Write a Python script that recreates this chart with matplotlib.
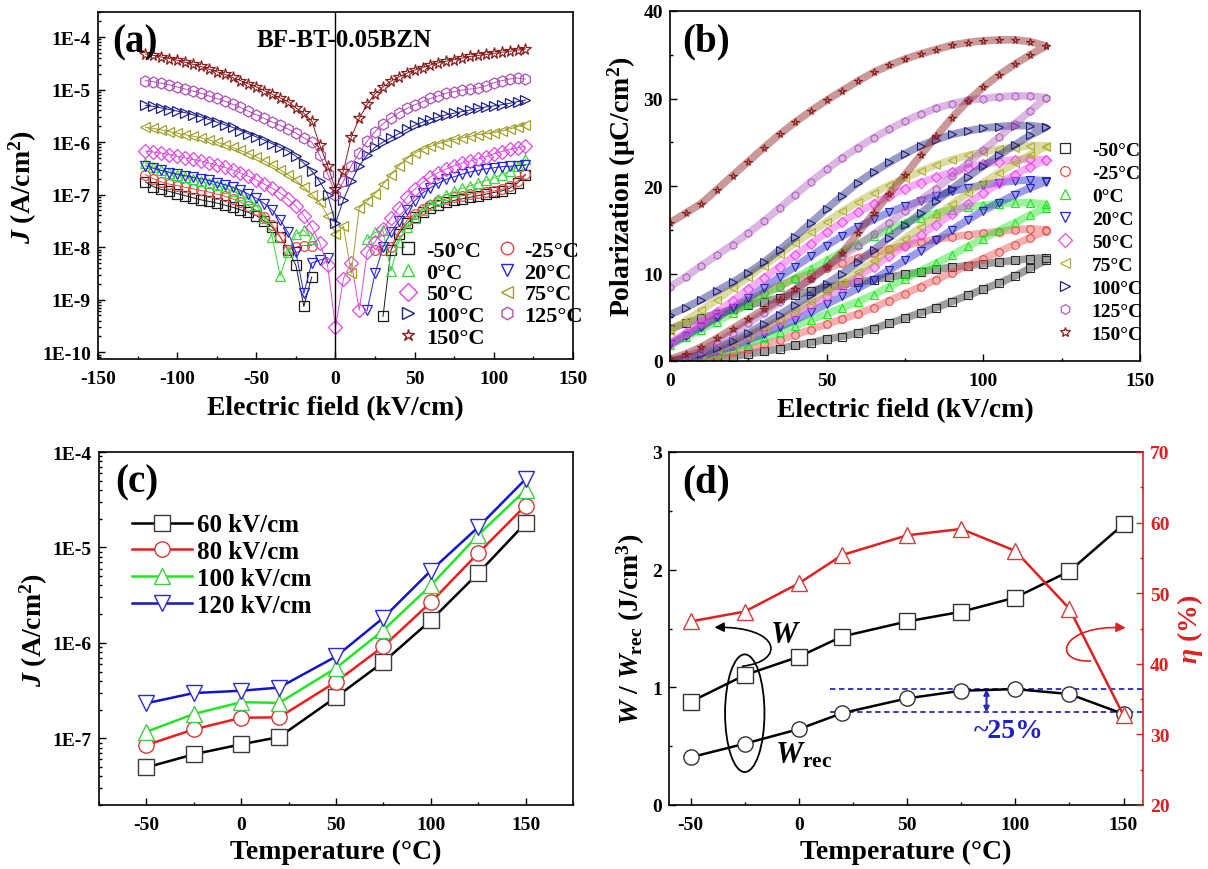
import numpy as np
import matplotlib
matplotlib.use('Agg')
import matplotlib.pyplot as plt
from matplotlib.ticker import MultipleLocator, LogLocator, FuncFormatter, NullFormatter
from matplotlib.patches import Ellipse, FancyArrowPatch
from matplotlib.path import Path
from matplotlib.lines import Line2D

nan = np.nan

# ------------------------- data -------------------------
temp_labels = ['-50°C', '-25°C', '0°C', '20°C', '50°C', '75°C', '100°C', '125°C', '150°C']

# (a) J-E curves, log10(J [A/cm2]) read at these fields (kV/cm)
field_a = [-120, -115, -110, -105, -100, -95, -90, -85, -80, -75, -70, -65, -60, -55, -50,
           -45, -40, -35, -30, -25, -20, -15, -10, -5, 0, 5, 10, 15, 20, 25, 30, 35, 40,
           45, 50, 55, 60, 65, 70, 75, 80, 85, 90, 95, 100, 105, 110, 115, 120]

logJ_m50 = [-6.76, -6.85, -6.90, -6.94, -6.98, -7.02, -7.06, -7.10, -7.13, -7.16, -7.20, -7.24,
            -7.29, -7.34, -7.40, -7.50, -7.62, -7.80, -8.05, -8.35, -9.13, -8.57, nan, nan,
            nan,
            nan, nan, nan, nan, nan, -9.32, -8.06, -7.75, -7.55, -7.42, -7.33, -7.26, -7.20,
            -7.15, -7.11, -7.08, -7.05, -7.02, -6.99, -6.96, -6.93, -6.88, -6.78, -6.62]
logJ_m25 = [-6.62, -6.70, -6.76, -6.80, -6.83, -6.86, -6.89, -6.92, -6.95, -6.99, -7.03, -7.08,
            -7.14, -7.21, -7.30, -7.42, -7.58, -7.80, -8.05, -8.00, -7.97, -7.97, nan, nan,
            nan,
            nan, nan, nan, nan, -8.05, -8.06, -8.00, -7.70, -7.50, -7.37, -7.27, -7.19, -7.13,
            -7.08, -7.05, -7.02, -6.99, -6.97, -6.95, -6.93, -6.90, -6.84, -6.74, -6.61]
logJ_0 = [-6.40, -6.48, -6.54, -6.58, -6.62, -6.66, -6.70, -6.74, -6.78, -6.82, -6.87, -6.93,
          -7.00, -7.08, -7.20, -7.45, -7.80, -8.55, -8.10, -7.75, -7.68, -7.85, nan, nan,
          nan,
          nan, nan, nan, -7.85, -7.72, -7.68, -8.45, -7.90, -7.62, -7.45, -7.30, -7.18, -7.08,
          -7.00, -6.94, -6.88, -6.83, -6.78, -6.73, -6.68, -6.62, -6.55, -6.45, -6.33]
logJ_20 = [-6.45, -6.50, -6.54, -6.58, -6.61, -6.64, -6.67, -6.70, -6.73, -6.77, -6.81, -6.86,
           -6.92, -6.99, -7.07, -7.17, -7.30, -7.48, -7.72, -8.10, -8.88, -8.30, -8.25, -8.20,
           nan,
           nan, nan, nan, -9.20, -8.50, -8.00, -7.72, -7.50, -7.30, -7.12, -6.97, -6.87, -6.78,
           -6.71, -6.66, -6.61, -6.57, -6.54, -6.51, -6.49, -6.47, -6.46, -6.45, -6.44]
logJ_50 = [-6.17, -6.19, -6.21, -6.24, -6.27, -6.30, -6.33, -6.36, -6.40, -6.44, -6.48, -6.53,
           -6.59, -6.65, -6.72, -6.80, -6.88, -6.97, -7.08, -7.22, -7.40, -7.62, -7.92, -8.35,
           -9.53,
           -8.60, -8.30, -9.20, -8.10, -7.90, -7.65, -7.45, -7.25, -7.05, -6.90, -6.77, -6.66,
           -6.58, -6.51, -6.45, -6.40, -6.36, -6.32, -6.28, -6.22, -6.18, -6.14, -6.11, -6.08]
logJ_75 = [-5.72, -5.74, -5.77, -5.80, -5.83, -5.86, -5.89, -5.92, -5.96, -6.00, -6.05, -6.10,
           -6.16, -6.22, -6.28, -6.36, -6.44, -6.53, -6.62, -6.73, -6.86, -7.00, -7.15, -7.40,
           -7.75,
           -7.60, -8.50, -7.25, -7.12, -6.98, -6.80, -6.62, -6.45, -6.32, -6.21, -6.14, -6.08,
           -6.03, -5.99, -5.95, -5.92, -5.89, -5.86, -5.84, -5.82, -5.79, -5.75, -5.71, -5.67]
logJ_100 = [-5.30, -5.32, -5.35, -5.38, -5.41, -5.44, -5.48, -5.52, -5.57, -5.62, -5.67, -5.72,
            -5.78, -5.84, -5.90, -5.96, -6.03, -6.10, -6.17, -6.27, -6.40, -6.55, -6.75, -7.00,
            -7.55,
            -7.10, -6.75, -6.45, -6.25, -6.10, -6.00, -5.92, -5.84, -5.76, -5.68, -5.62, -5.57,
            -5.52, -5.48, -5.45, -5.42, -5.39, -5.36, -5.33, -5.31, -5.29, -5.26, -5.23, -5.20]
logJ_125 = [-4.83, -4.85, -4.88, -4.91, -4.95, -4.99, -5.03, -5.07, -5.12, -5.17, -5.22, -5.28,
            -5.34, -5.41, -5.48, -5.55, -5.62, -5.68, -5.75, -5.83, -5.92, -6.00, -6.25, -6.60,
            -7.00,
            -6.75, -6.45, -6.20, -5.98, -5.80, -5.65, -5.54, -5.44, -5.36, -5.29, -5.23, -5.17,
            -5.12, -5.07, -5.04, -5.01, -4.99, -4.97, -4.93, -4.87, -4.83, -4.80, -4.78, -4.80]
logJ_150 = [-4.32, -4.35, -4.38, -4.41, -4.44, -4.48, -4.52, -4.56, -4.61, -4.66, -4.71, -4.77,
            -4.83, -4.89, -4.95, -5.02, -5.09, -5.16, -5.23, -5.35, -5.45, -5.60, -6.05, -6.45,
            -6.90,
            -6.55, -5.90, -5.55, -5.28, -5.08, -4.95, -4.84, -4.76, -4.69, -4.63, -4.58, -4.53,
            -4.49, -4.46, -4.43, -4.40, -4.37, -4.35, -4.33, -4.31, -4.29, -4.27, -4.25, -4.23]

# (b) unipolar P-E loops: lower (rising field) and upper (falling field) branches
field_b = [0, 5, 10, 15, 20, 25, 30, 35, 40, 45, 50, 55, 60, 65, 70, 75, 80, 85, 90, 95, 100,
           105, 110, 115, 120]
P_lo_m50 = [0.0, 0.0, 0.1, 0.3, 0.5, 0.8, 1.1, 1.4, 1.8, 2.1, 2.5, 2.8, 3.2, 3.7, 4.3, 4.9, 5.5,
            6.1, 6.8, 7.5, 8.2, 8.9, 9.7, 10.6, 11.5]
P_up_m50 = [3.7, 4.3, 4.9, 5.4, 5.9, 6.4, 6.8, 7.2, 7.6, 8.0, 8.4, 8.7, 9.0, 9.3, 9.6, 9.9, 10.2,
            10.5, 10.7, 10.9, 11.1, 11.3, 11.5, 11.7, 11.8]
P_lo_m25 = [0.0, 0.1, 0.3, 0.6, 1.0, 1.4, 1.9, 2.4, 3.0, 3.6, 4.2, 4.8, 5.4, 6.1, 6.9, 7.7, 8.5,
            9.3, 10.1, 10.9, 11.7, 12.5, 13.3, 14.1, 14.9]
P_up_m25 = [2.0, 3.0, 4.0, 5.0, 6.0, 6.9, 7.8, 8.6, 9.4, 10.0, 10.6, 11.2, 11.8, 12.3, 12.8, 13.2,
            13.6, 13.9, 14.2, 14.4, 14.6, 14.8, 15.0, 15.1, 15.0]
P_lo_0 = [0.0, 0.2, 0.5, 0.9, 1.4, 2.0, 2.6, 3.3, 4.0, 4.7, 5.4, 6.1, 6.8, 7.6, 8.5, 9.4, 10.3,
          11.2, 12.1, 13.1, 14.0, 14.9, 15.8, 16.7, 17.5]
P_up_0 = [1.8, 2.7, 3.6, 4.5, 5.5, 6.5, 7.5, 8.5, 9.5, 10.5, 11.5, 12.5, 13.4, 14.3, 15.1, 15.8,
          16.4, 16.9, 17.3, 17.6, 17.8, 18.0, 18.1, 18.1, 17.9]
P_lo_20 = [0.0, 0.2, 0.6, 1.1, 1.7, 2.4, 3.1, 3.9, 4.7, 5.6, 6.5, 7.4, 8.3, 9.3, 10.4, 11.5, 12.6,
           13.8, 15.0, 16.1, 17.2, 18.1, 19.0, 19.8, 20.5]
P_up_20 = [1.9, 2.9, 3.9, 5.0, 6.1, 7.2, 8.4, 9.6, 10.8, 12.0, 13.2, 14.3, 15.3, 16.2, 17.0, 17.7,
           18.3, 18.9, 19.4, 19.8, 20.1, 20.4, 20.6, 20.7, 20.6]
P_lo_50 = [0.0, 0.3, 0.7, 1.3, 2.0, 2.8, 3.6, 4.5, 5.4, 6.4, 7.4, 8.5, 9.6, 10.8, 12.0, 13.2, 14.4,
           15.6, 16.8, 18.0, 19.2, 20.3, 21.3, 22.2, 23.0]
P_up_50 = [2.0, 3.2, 4.4, 5.6, 6.9, 8.2, 9.5, 10.8, 12.1, 13.4, 14.7, 15.9, 17.0, 18.0, 18.9, 19.7,
           20.4, 21.0, 21.6, 22.1, 22.5, 22.8, 23.0, 23.1, 23.0]
P_lo_75 = [0.0, 0.3, 0.8, 1.4, 2.1, 2.9, 3.8, 4.7, 5.7, 6.8, 7.9, 9.0, 10.2, 11.4, 12.7, 14.0, 15.3,
           16.6, 17.9, 19.2, 20.4, 21.5, 22.6, 23.6, 24.5]
P_up_75 = [3.4, 4.6, 5.8, 7.0, 8.3, 9.6, 10.9, 12.2, 13.5, 14.7, 15.9, 17.1, 18.2, 19.2, 20.1, 20.9,
           21.7, 22.4, 23.0, 23.5, 23.9, 24.2, 24.4, 24.6, 24.6]
P_lo_100 = [0.0, 0.3, 0.8, 1.5, 2.3, 3.2, 4.2, 5.3, 6.4, 7.6, 8.8, 10.0, 11.3, 12.7, 14.1, 15.5,
            16.9, 18.3, 19.7, 21.0, 22.3, 23.5, 24.7, 25.8, 26.7]
P_up_100 = [5.3, 6.1, 7.0, 8.0, 9.0, 10.1, 11.3, 12.7, 14.2, 15.8, 17.4, 18.9, 20.4, 21.6, 22.7,
            23.7, 24.6, 25.3, 25.9, 26.3, 26.6, 26.8, 26.9, 26.9, 26.7]
P_lo_125 = [0.0, 0.5, 1.2, 2.1, 3.2, 4.3, 5.5, 6.8, 8.1, 9.4, 10.7, 12.0, 13.2, 14.5, 15.8, 17.1,
            18.4, 19.7, 21.1, 22.6, 24.1, 25.6, 27.1, 28.6, 30.1]
P_up_125 = [8.5, 9.6, 10.9, 12.1, 13.3, 14.6, 16.0, 17.5, 19.0, 20.5, 21.9, 23.2, 24.4, 25.5, 26.5,
            27.4, 28.2, 28.9, 29.4, 29.8, 30.0, 30.2, 30.3, 30.3, 30.1]
P_lo_150 = [0.2, 0.8, 1.6, 2.6, 3.7, 4.8, 5.9, 7.0, 8.2, 9.4, 10.7, 12.4, 14.6, 16.9, 19.1, 21.3,
            23.5, 25.7, 27.8, 29.7, 31.3, 32.7, 33.9, 35.0, 36.0]
P_up_150 = [15.8, 16.9, 18.0, 19.6, 21.2, 22.8, 24.4, 25.9, 27.3, 28.6, 29.8, 30.9, 32.0, 33.0,
            33.8, 34.5, 35.1, 35.6, 36.1, 36.4, 36.6, 36.7, 36.7, 36.5, 36.0]

# (c) leakage current density vs temperature
temps = [-50, -25, 0, 20, 50, 75, 100, 125, 150]
field_labels_c = ['60 kV/cm', '80 kV/cm', '100 kV/cm', '120 kV/cm']
J_60 = [4.95e-8, 6.8e-8, 8.65e-8, 1.03e-7, 2.7e-7, 6.3e-7, 1.72e-6, 5.37e-6, 1.8e-5]
J_80 = [8.5e-8, 1.24e-7, 1.64e-7, 1.66e-7, 3.9e-7, 9.2e-7, 2.66e-6, 8.7e-6, 2.75e-5]
J_100 = [1.17e-7, 1.8e-7, 2.39e-7, 2.35e-7, 5.45e-7, 1.36e-6, 4.0e-6, 1.35e-5, 4.0e-5]
J_120 = [2.33e-7, 2.98e-7, 3.15e-7, 3.4e-7, 7.2e-7, 1.83e-6, 5.7e-6, 1.63e-5, 5.2e-5]

# (d) energy storage
W_tot = [0.877, 1.104, 1.26, 1.432, 1.56, 1.642, 1.763, 1.987, 2.386]
W_rec = [0.405, 0.521, 0.645, 0.781, 0.906, 0.971, 0.985, 0.943, 0.773]
eta = [46.0, 47.4, 51.4, 55.4, 58.2, 59.1, 56.0, 47.8, 32.7]
ref_levels = [0.985, 0.787]

# ------------------------- style -------------------------
plt.rcParams['font.family'] = ['Liberation Serif', 'DejaVu Serif']
plt.rcParams['font.weight'] = 'bold'
plt.rcParams['axes.labelweight'] = 'bold'
plt.rcParams['axes.unicode_minus'] = False
plt.rcParams['mathtext.fontset'] = 'custom'
plt.rcParams['mathtext.rm'] = 'Liberation Serif:bold'
plt.rcParams['mathtext.it'] = 'Liberation Serif:italic:bold'
plt.rcParams['mathtext.bf'] = 'Liberation Serif:bold'

TICK = 14
LAB = 20

def style(ax, right=False):
    ax.tick_params(which='both', direction='in', top=False, right=right, labelsize=TICK, width=1.0)
    ax.tick_params(which='major', length=5)
    ax.tick_params(which='minor', length=2.5)
    ax.tick_params(axis='x', which='both', pad=8)
    ax.tick_params(axis='y', which='both', pad=5)
    for sp in ax.spines.values():
        sp.set_linewidth(1.2)

def dec_fmt(v, pos):
    return '1E%d' % int(round(np.log10(v)))

fig = plt.figure(figsize=(12.08, 8.70), dpi=100)
W_, H_ = 1208.0, 870.0

def axes_px(l, r, t, b):
    return fig.add_axes([l / W_, 1 - b / H_, (r - l) / W_, (b - t) / H_])

# ------------------------- (a) -------------------------
axa = axes_px(98, 573, 13, 360)
cols_a = ['#1a1a1a', '#e04848', '#3cd83c', '#2626d6', '#e048e0', '#a0a02a', '#1e1e88', '#b050b8', '#8b1c1c']
mk_a = ['s', 'o', '^', 'v', 'D', '<', '>', 'h', '*']
ms_a = [7, 7, 7.5, 7.5, 7, 7.5, 7.5, 8, 8.5]
series_a = [logJ_m50, logJ_m25, logJ_0, logJ_20, logJ_50, logJ_75, logJ_100, logJ_125, logJ_150]
for lj, c, m, ms in zip(series_a, cols_a, mk_a, ms_a):
    J = 10 ** np.array(lj, dtype=float)
    axa.plot(field_a, J, ls='-', lw=0.7, color=c, marker=m, ms=ms, mfc='none', mec=c, mew=0.9)
axa.axvline(0, color='k', lw=1.0)
axa.set_yscale('log')
axa.set_xlim(-150, 150)
axa.set_ylim(7.4e-11, 3e-4)
axa.xaxis.set_major_locator(MultipleLocator(50))
axa.xaxis.set_minor_locator(MultipleLocator(25))
axa.yaxis.set_major_locator(LogLocator(base=10, numticks=20))
axa.yaxis.set_minor_locator(LogLocator(base=10, subs=np.arange(2, 10), numticks=20))
axa.yaxis.set_major_formatter(FuncFormatter(dec_fmt))
axa.yaxis.set_minor_formatter(NullFormatter())
style(axa)
axa.set_xlabel('Electric field (kV/cm)', fontsize=LAB, labelpad=6)
axa.set_ylabel(r'$J$ (A/cm$^2$)', fontsize=LAB, labelpad=2)
axa.text(0.078, 0.915, '(a)', transform=axa.transAxes, fontsize=28, ha='center', va='center')
axa.text(0.518, 0.922, 'BF-BT-0.05BZN', transform=axa.transAxes, fontsize=18, ha='center', va='center')
h_a = [Line2D([], [], ls='none', marker=m, ms=9, mfc='none', mec=c, mew=1.0) for m, c in zip(mk_a, cols_a)]
order = [0, 2, 4, 6, 8, 1, 3, 5, 7]
leg = axa.legend([h_a[i] for i in order], [temp_labels[i] for i in order], ncol=2, loc='center',
                 bbox_to_anchor=(491 / W_, 1 - 295 / H_), bbox_transform=fig.transFigure,
                 frameon=False, fontsize=16, handlelength=0.8, handletextpad=0.4,
                 columnspacing=0.6, labelspacing=0.05, borderpad=0.1)

# ------------------------- (b) -------------------------
axb = axes_px(670, 1140, 12, 362)
cols_b = ['#2a2a2a', '#e85050', '#22e622', '#2323c8', '#ee48ee', '#b0b032', '#20207e', '#b060c0', '#8b2020']
mk_b = ['s', 'o', '^', 'v', 'D', '<', '>', 'h', '*']
lows = [P_lo_m50, P_lo_m25, P_lo_0, P_lo_20, P_lo_50, P_lo_75, P_lo_100, P_lo_125, P_lo_150]
ups = [P_up_m50, P_up_m25, P_up_0, P_up_20, P_up_50, P_up_75, P_up_100, P_up_125, P_up_150]
for lo, up, c, m in zip(lows, ups, cols_b, mk_b):
    E_loop = list(field_b) + list(field_b)[::-1]
    P_loop = list(lo) + list(up)[::-1]
    axb.plot(E_loop, P_loop, ls='-', lw=5.5, color=c, alpha=0.45, solid_capstyle='round')
    axb.plot(E_loop, P_loop, ls='none', marker=m, ms=5.5, mfc='none', mec=c, mew=0.8)
axb.set_xlim(0, 150)
axb.set_ylim(0, 40)
axb.xaxis.set_major_locator(MultipleLocator(50))
axb.xaxis.set_minor_locator(MultipleLocator(25))
axb.yaxis.set_major_locator(MultipleLocator(10))
axb.yaxis.set_minor_locator(MultipleLocator(5))
style(axb)
axb.set_xlabel('Electric field (kV/cm)', fontsize=LAB, labelpad=6)
axb.set_ylabel('Polarization (μC/cm$^2$)', fontsize=LAB)
axb.text(0.0766, 0.915, '(b)', transform=axb.transAxes, fontsize=28, ha='center', va='center')
h_b = [Line2D([], [], ls='none', marker=m, ms=7, mfc='none', mec=c, mew=0.9) for m, c in zip(mk_b, cols_b)]
axb.legend(h_b, temp_labels, loc='center', bbox_to_anchor=(1100 / W_, 1 - 243 / H_),
           bbox_transform=fig.transFigure, frameon=False, fontsize=14, handlelength=0.8,
           handletextpad=1.0, labelspacing=0.28, borderpad=0.1)

# ------------------------- (c) -------------------------
axc = axes_px(99, 573, 453, 806)
series_c = [J_60, J_80, J_100, J_120]
lcol_c = ['#000000', '#ee1c1c', '#22e622', '#1414c8']
mcol_c = ['#3a3a3a', '#d03a3a', '#44cc44', '#2a2ad0']
mk_c = ['s', 'o', '^', 'v']
for J, lc, mc, m, lab in zip(series_c, lcol_c, mcol_c, mk_c, field_labels_c):
    axc.plot(temps, J, color=lc, lw=1.8, marker=m, ms=11, mfc='white', mec=mc, mew=1.0, label=lab)
axc.set_yscale('log')
axc.set_xlim(-75, 175)
axc.set_ylim(2e-8, 1e-4)
axc.xaxis.set_major_locator(MultipleLocator(50))
axc.xaxis.set_minor_locator(MultipleLocator(25))
axc.yaxis.set_major_locator(LogLocator(base=10, numticks=20))
axc.yaxis.set_minor_locator(LogLocator(base=10, subs=np.arange(2, 10), numticks=20))
axc.yaxis.set_major_formatter(FuncFormatter(dec_fmt))
axc.yaxis.set_minor_formatter(NullFormatter())
style(axc)
axc.set_xlabel('Temperature (°C)', fontsize=LAB, labelpad=4)
axc.set_ylabel(r'$J$ (A/cm$^2$)', fontsize=LAB, labelpad=2)
axc.text(0.0795, 0.914, '(c)', transform=axc.transAxes, fontsize=28, ha='center', va='center')
axc.legend(loc='center', bbox_to_anchor=(222 / W_, 1 - 566 / H_), bbox_transform=fig.transFigure,
           frameon=False, fontsize=18, handlelength=2.4, handletextpad=0.2, labelspacing=0.15,
           borderpad=0.1, numpoints=1)

# ------------------------- (d) -------------------------
axd = axes_px(669, 1143, 453, 806)
red = '#e02020'
axd.plot(temps, W_tot, color='k', lw=1.8, marker='s', ms=11, mfc='white', mec='#333333', mew=1.0, zorder=3)
axd.plot(temps, W_rec, color='k', lw=1.8, marker='o', ms=11, mfc='white', mec='#333333', mew=1.0, zorder=3)
axd.set_xlim(-60, 159)
axd.set_ylim(0, 3)
axd.xaxis.set_major_locator(MultipleLocator(50))
axd.xaxis.set_minor_locator(MultipleLocator(25))
axd.yaxis.set_major_locator(MultipleLocator(1))
axd.yaxis.set_minor_locator(MultipleLocator(0.5))
style(axd)
axd.spines['right'].set_visible(False)
axd.set_xlabel('Temperature (°C)', fontsize=LAB, labelpad=4)
axd.set_ylabel(r'$W$ / $W_{\rm rec}$ (J/cm$^3$)', fontsize=LAB)
axd.text(0.078, 0.914, '(d)', transform=axd.transAxes, fontsize=28, ha='center', va='center')

axd2 = axd.twinx()
axd2.plot(temps, eta, color=red, lw=1.8, marker='^', ms=12, mfc='white', mec='#d04040', mew=1.0)
axd2.set_ylim(20, 70)
axd2.yaxis.set_major_locator(MultipleLocator(10))
axd2.yaxis.set_minor_locator(MultipleLocator(5))
axd2.tick_params(which='both', direction='in', labelsize=TICK, colors=red, width=1.0, pad=5)
axd2.tick_params(which='major', length=5)
axd2.tick_params(which='minor', length=2.5)
for k, sp in axd2.spines.items():
    sp.set_linewidth(1.2)
axd2.spines['right'].set_color(red)
axd2.spines['left'].set_visible(False)
axd2.spines['top'].set_visible(False)
axd2.spines['bottom'].set_visible(False)
axd2.set_ylabel(r'$\eta$ (%)', fontsize=LAB, color=red)

# annotations on (d)
axd.add_patch(Ellipse((-25, 0.78), width=18.2, height=1.0, fill=False, ec='k', lw=1.3))
p1 = Path([(-26, 1.18), (-6, 1.22), (-8, 1.52), (-39, 1.51)],
          [Path.MOVETO, Path.CURVE4, Path.CURVE4, Path.CURVE4])
axd.add_patch(FancyArrowPatch(path=p1, arrowstyle='-|>', mutation_scale=14, color='k', lw=1.2,
                              transform=axd.transData))
p2 = Path([(134.8, 40.4), (116, 40.2), (121, 45.6), (151, 45.1)],
          [Path.MOVETO, Path.CURVE4, Path.CURVE4, Path.CURVE4])
axd2.add_patch(FancyArrowPatch(path=p2, arrowstyle='-|>', mutation_scale=14, color=red, lw=1.2,
                               transform=axd2.transData))
axd.text(-6, 1.45, r'$W$', fontsize=22, ha='center', va='center')
axd.text(-11, 0.43, r'$W_{\rm rec}$', fontsize=22, ha='left', va='center')
axd.hlines(ref_levels, 14.6, 159, colors='#2a2ab8', linestyles=(0, (3, 2)), lw=1.3)
axd.annotate('', xy=(86.7, ref_levels[1]), xytext=(86.7, ref_levels[0]),
             arrowprops=dict(arrowstyle='<|-|>', color='#2a2ab8', lw=1.5, mutation_scale=8,
                             shrinkA=0, shrinkB=0))
axd.text(97, 0.63, '~25%', fontsize=20, color='#2020c8', ha='center', va='center')

fig.savefig('out.png', dpi=100)
